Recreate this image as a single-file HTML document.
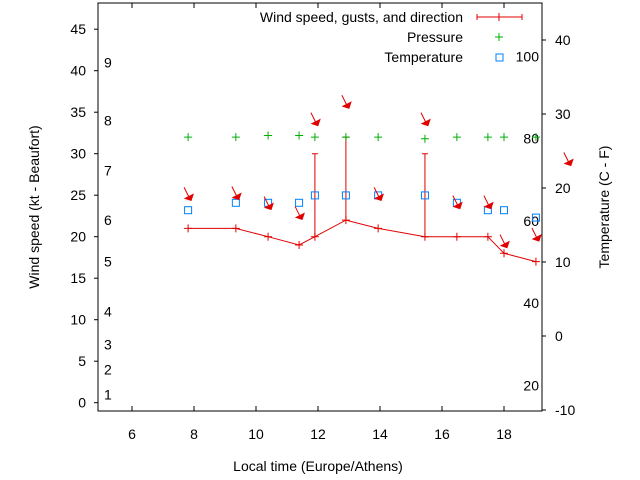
<!DOCTYPE html>
<html><head><meta charset="utf-8"><style>
body{margin:0;background:#fff}
svg{display:block;font-family:"Liberation Sans",sans-serif;font-size:14px}
</style></head><body>
<svg id="c" width="640" height="480">
<rect x="0" y="0" width="640" height="480" fill="#fff"/>
<g id="axes"></g>
<g id="series"></g>
</svg>
<script>
const times=[7.81,9.35,10.39,11.39,11.9,12.9,13.94,15.45,16.48,17.48,18.0,19.03];
const wind=[21,21,20,19,20,22,21,20,20,20,18,17];
const gustTimes=[11.9,12.9,15.45];
const gusts=[30,32,30];
const pressure=[32,32,32.2,32.2,32,32,32,31.8,32,32,32,32];
const temperature=[17,18,18,18,19,19,19,19,18,17,17,16];
const arrowTimes=[7.81,9.35,10.39,11.39,11.9,12.9,13.94,15.45,16.48,17.48,18.0,19.03,20.06];
const arrowY=[24.5,24.6,23.4,22.2,33.5,35.6,24.5,33.5,23.5,23.5,18.8,19.6,28.7];
const xTicks=[6,8,10,12,14,16,18];
const yTicks=[0,5,10,15,20,25,30,35,40,45];
const tTicks=[-10,0,10,20,30,40];
const beaufort=[[1,1],[2,4],[3,7],[4,11],[5,17],[6,22],[7,28],[8,34],[9,41]];
const fahr=[20,40,60,80,100];

const L=98,R=542,T=3,B=411;
const X=h=>132+(h-6)*31;
const Y=v=>402.7-8.3*v;
const TY=t=>410-7.4*(t+10);
const NS="http://www.w3.org/2000/svg";
function mk(tag,attrs,parent,text){const e=document.createElementNS(NS,tag);for(const k in attrs)e.setAttribute(k,attrs[k]);if(text!==undefined)e.textContent=text;parent.appendChild(e);return e;}
const ax=document.getElementById('axes'),sr=document.getElementById('series');

let e=mk('rect',{x:L,y:T,width:R-L,height:B-T,fill:'none',stroke:'#000','stroke-width':1},ax);


xTicks.forEach(h=>{
 mk('line',{x1:X(h),x2:X(h),y1:B,y2:B-5,stroke:'#000'},ax);
 mk('line',{x1:X(h),x2:X(h),y1:T,y2:T+5,stroke:'#000'},ax);
 const t=mk('text',{x:X(h),y:439,'text-anchor':'middle'},ax,h);
 
 
});
yTicks.forEach(v=>{
 mk('line',{x1:L-4,x2:L,y1:Y(v),y2:Y(v),stroke:'#000'},ax);
 const t=mk('text',{x:L-12,y:Y(v)+5,'text-anchor':'end'},ax,v);
 
 
});
tTicks.forEach(v=>{
 mk('line',{x1:R,x2:R+4,y1:TY(v),y2:TY(v),stroke:'#000'},ax);
 const t=mk('text',{x:R+13,y:TY(v)+5},ax,v);
 
 
});
beaufort.forEach(([b,kt])=>{
 const t=mk('text',{x:104,y:Y(kt)+5},ax,b);
 
 
});
fahr.forEach(f=>{
 const c=(f-32)*5/9;
 const t=mk('text',{x:539,y:TY(c)+5,'text-anchor':'end'},ax,f);
 
 
});
e=mk('text',{x:318,y:471,'text-anchor':'middle'},ax,'Local time (Europe/Athens)');


e=mk('text',{x:39,y:207,'text-anchor':'middle',transform:'rotate(-90 39 207)'},ax,'Wind speed (kt - Beaufort)');


e=mk('text',{x:609,y:207,'text-anchor':'middle',transform:'rotate(-90 609 207)'},ax,'Temperature (C - F)');



e=mk('polyline',{points:times.map((h,i)=>X(h)+','+Y(wind[i])).join(' '),fill:'none',stroke:'#e00000','stroke-width':1},sr);


times.forEach((h,i)=>{
 const x=X(h),y=Y(wind[i]);
 const p=mk('path',{d:`M${x-4} ${y}H${x+4}M${x} ${y-4}V${y+4}`,stroke:'#e00000'},sr);
 
 
});
gustTimes.forEach((h,i)=>{
 const x=X(h);const w=wind[times.indexOf(h)];
 const p=mk('path',{d:`M${x} ${Y(w)}V${Y(gusts[i])}M${x-3} ${Y(gusts[i])}H${x+3}`,stroke:'#e00000'},sr);
 
 
});
pressure.forEach((v,i)=>{
 const x=X(times[i]),y=Y(v);
 const p=mk('path',{d:`M${x-4} ${y}H${x+4}M${x} ${y-4}V${y+4}`,stroke:'#00b000'},sr);
 
 
});
temperature.forEach((v,i)=>{
 const x=X(times[i]),y=TY(v);
 const p=mk('rect',{x:x-3.5,y:y-3.5,width:7,height:7,fill:'none',stroke:'#0080ff'},sr);
 
 
});
arrowTimes.forEach((h,i)=>{
 const x=X(h)+2,y=Y(arrowY[i]);
 const p=mk('path',{d:`M${x-6} ${y-12}L${x} ${y}`,stroke:'#e00000'},sr);
 
 
 const hd=mk('polygon',{points:`${x+1},${y+1} ${x-5},${y-1} ${x+3},${y-5}`,fill:'#e00000',stroke:'#e00000'},sr);
 
 
});

const lg=mk('g',{},sr);


[['Wind speed, gusts, and direction',17],['Pressure',37],['Temperature',57]].forEach(([s,y])=>{
 const t=mk('text',{x:463,y:y+5,'text-anchor':'end'},lg,s);
 
 
});
mk('path',{d:'M477 17H522M477 14V20M522 14V20M499 13V21',stroke:'#e00000'},lg);
mk('path',{d:'M495 37H503M499 33V41',stroke:'#00b000'},lg);
mk('rect',{x:496,y:54,width:7,height:7,fill:'none',stroke:'#0080ff'},lg);
</script>
</body></html>
